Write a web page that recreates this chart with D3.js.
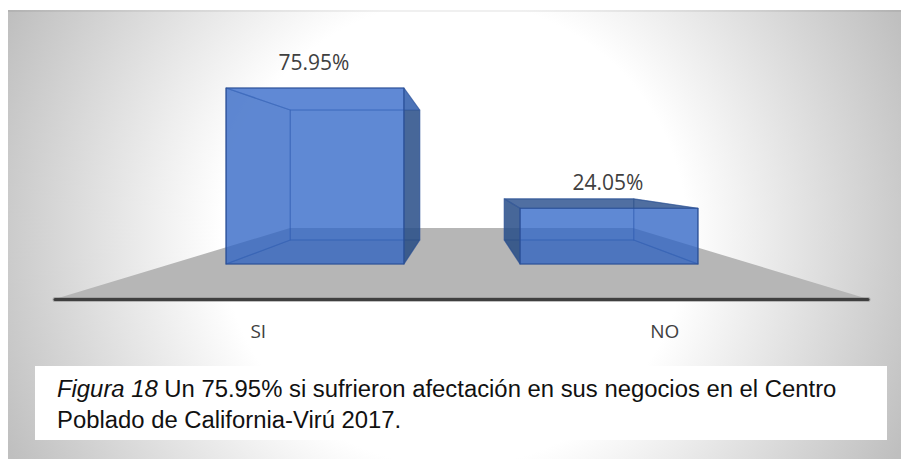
<!DOCTYPE html>
<html><head><meta charset="utf-8">
<script src="https://cdn.jsdelivr.net/npm/d3@7"></script>
<style>html,body{margin:0;padding:0;background:#fff}svg{display:block}</style>
</head><body><svg id="c" width="901" height="459"></svg>
<script>
const categories = ["SI", "NO"];
const values = [75.95, 24.05];
const valueLabels = ["75.95%", "24.05%"];
const captionItalic = "Figura 18";
const captionRest = " Un 75.95% si sufrieron afectación en sus negocios en el Centro";
const captionLine2 = "Poblado de California-Virú 2017.";

const svg = d3.select("#c");
const defs = svg.append("defs");
const grad = defs.append("radialGradient").attr("id","bg").attr("gradientUnits","userSpaceOnUse")
  .attr("cx",454).attr("cy",234).attr("r",495);
grad.append("stop").attr("offset",0).attr("stop-color","#fff");
grad.append("stop").attr("offset",.47).attr("stop-color","#fff");
grad.append("stop").attr("offset",1).attr("stop-color","#bfbfbf");

svg.append("rect").attr("x",8).attr("y",10).attr("width",893).attr("height",449).attr("fill","url(#bg)");
svg.append("rect").attr("x",8).attr("y",10).attr("width",893).attr("height",2).attr("fill","#000").attr("opacity",.06);

const xAxis = d3.scaleBand().domain(categories).range([55,868]);
const pad = s => s.paddingInner(.395).paddingOuter(.1975);
const xFront = pad(d3.scaleBand().domain(categories).range([168,756]));
const xBack = pad(d3.scaleBand().domain(categories).range([248,676]));
const yFront = d3.scaleLinear().domain([0,75.95]).range([264,88]);
const yBack = d3.scaleLinear().domain([0,75.95]).range([240,110]);

const floorBack = [xAxis.range()[0]+235, xAxis.range()[1]-235];
svg.append("path").attr("fill","#b6b6b6")
  .attr("d",d3.line()([[xAxis.range()[0],299],[floorBack[0],228],[floorBack[1],228],[xAxis.range()[1],299]])+"Z");
svg.append("line").attr("x1",55).attr("x2",868).attr("y1",299.5).attr("y2",299.5)
  .attr("stroke","#8c8c8c").attr("stroke-width",5).attr("stroke-linecap","round").attr("stroke-opacity",.55);
svg.append("line").attr("x1",55).attr("x2",868).attr("y1",299.5).attr("y2",299.5)
  .attr("stroke","#3f3f3f").attr("stroke-width",3).attr("stroke-linecap","round");

const line = d3.line();
const INNER = "#3066c7", OUTER = "#27497b", EDGE = "#2a4f96";
function face(g, pts, fill, alpha, edge){
  g.append("path").attr("d",line(pts)+"Z").attr("fill",fill).attr("fill-opacity",alpha)
   .attr("stroke",EDGE).attr("stroke-width",1.2).attr("stroke-opacity",edge).attr("stroke-linejoin","round");
}
categories.forEach((c,i)=>{
  const v = values[i], g = svg.append("g");
  const fl = xFront(c), fr = fl + xFront.bandwidth(), ft = yFront(v), fb = yFront(0);
  const bl = xBack(c), br = bl + xBack.bandwidth(), bt = yBack(v), bb = yBack(0);
  face(g,[[bl,bt],[br,bt],[br,bb],[bl,bb]],INNER,.52,.4);
  const leftOut = bl < fl, rightOut = br > fr, topOut = bt < ft;
  face(g,[[fl,fb],[fr,fb],[br,bb],[bl,bb]],"#2a5bb0",.52,.4);
  face(g,[[fl,ft],[bl,bt],[bl,bb],[fl,fb]],leftOut?OUTER:"#2c5fbd",leftOut?.7:.52,.4);
  face(g,[[fr,ft],[br,bt],[br,bb],[fr,fb]],rightOut?OUTER:"#2c5fbd",rightOut?.7:.52,.4);
  face(g,[[fl,ft],[fr,ft],[br,bt],[bl,bt]],topOut?OUTER:"#3368cc",topOut?.62:.52,.4);
  face(g,[[fl,ft],[fr,ft],[fr,fb],[fl,fb]],INNER,.52,1);
  svg.append("text").attr("x",fl+xFront.bandwidth()/2-1).attr("y",Math.min(ft,bt)-(ft<bt?18:9))
    .attr("text-anchor","middle").attr("font-family","'Open Sans'").attr("font-size",21).attr("fill","#404040")
    .text(valueLabels[i]);
  svg.append("text").attr("x",xAxis(c)+xAxis.bandwidth()/2).attr("y",338)
    .attr("text-anchor","middle").attr("font-family","'Open Sans'").attr("font-size",19).attr("fill","#404040")
    .text(c);
});

svg.append("rect").attr("x",35).attr("y",366).attr("width",852).attr("height",74).attr("fill","#fff");
const cap = svg.append("text").attr("font-family","'Liberation Sans'").attr("font-size",23.85).attr("fill","#111");
const l1 = cap.append("tspan").attr("x",57).attr("y",397);
l1.append("tspan").attr("font-style","italic").text(captionItalic);
l1.append("tspan").text(captionRest);
cap.append("tspan").attr("x",57).attr("y",428).text(captionLine2);
</script></body></html>
